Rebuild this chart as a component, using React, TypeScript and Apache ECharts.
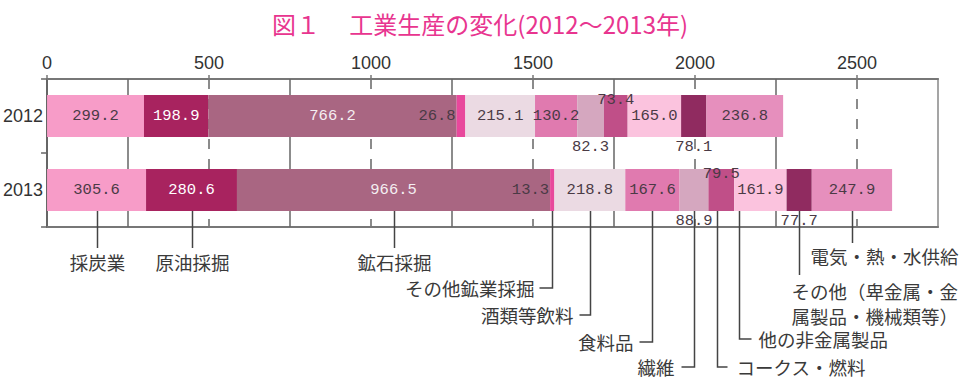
import React, { useEffect, useRef } from 'react';
import * as echarts from 'echarts';

// ---- data ----
const years = ['2012', '2013'];
const sectors = [
  '採炭業',
  '原油採掘',
  '鉱石採掘',
  'その他鉱業採掘',
  '酒類等飲料',
  '食料品',
  '繊維',
  'コークス・燃料',
  '他の非金属製品',
  'その他（卑金属・金\n属製品・機械類等）',
  '電気・熱・水供給',
];
const values2012 = [299.2, 198.9, 766.2, 26.8, 215.1, 130.2, 82.3, 73.4, 165.0, 78.1, 236.8];
const values2013 = [305.6, 280.6, 966.5, 13.3, 218.8, 167.6, 88.9, 79.5, 161.9, 77.7, 247.9];
const axisMax = 2750;
const tickInterval = 500;
const solidGridValues = [250, 750, 1250, 1750, 2250];
const titleText = '図１　 工業生産の変化(2012～2013年)';

// ---- style ----
const colors = [
  '#F79CC8', '#A8235F', '#A96682', '#E8489C', '#EBDAE3', '#E07AAF',
  '#D5A7BF', '#C04F88', '#FBC3DE', '#902B60', '#E68FBD',
];
const labelPlacement = [
  'inside', 'inside', 'inside', 'left', 'inside', 'inside',
  'bottom', 'insideTop', 'inside', 'bottom', 'inside',
];
const labelDistance = [5, 5, 5, 1, 5, 5, 2, -3, 5, 2, 5];
const labelColors = [
  '#4a3a45', '#ffffff', '#f4eef1', '#4a3a45', '#4a3a45', '#4a3a45',
  '#4a3a45', '#4a3a45', '#4a3a45', '#4a3a45', '#4a3a45',
];
const anchorFraction = [0.5, 0.5, 0.5, 0.5, 0.5, 0.5, 0.5, 0.35, 0.1, 0.5, 0.5];
const leaderLayout: any[] = [
  { kind: 'down', endY: 248, textY: 262 },
  { kind: 'down', endY: 248, textY: 262 },
  { kind: 'down', endY: 248, textY: 262 },
  { kind: 'left', endY: 288, arm: 13, gap: 5 },
  { kind: 'left', endY: 315, arm: 11, gap: 6 },
  { kind: 'left', endY: 342, arm: 13, gap: 6 },
  { kind: 'left', endY: 367, arm: 13, gap: 7 },
  { kind: 'right', endY: 367, arm: 10, gap: 9 },
  { kind: 'right', endY: 339, arm: 12, gap: 7 },
  { kind: 'under', endY: 275, textDx: -8, textY: 278 },
  { kind: 'under', endY: 243, textDx: -42, textY: 243 },
];

const BAR_W = 42;
const LINE_C = '#444';
const TEXT_C = '#3a3a3a';
const CJK = '"Noto Sans CJK JP", "Noto Sans", sans-serif';

export default function App() {
  const ref = useRef<HTMLDivElement>(null);

  useEffect(() => {
    const chart = echarts.init(ref.current!, null, { renderer: 'svg' });

    const series: any[] = sectors.map((name, i) => ({
      name,
      type: 'bar',
      stack: 'total',
      barWidth: BAR_W,
      z: 6,
      itemStyle: { color: colors[i] },
      label: {
        show: true,
        position: labelPlacement[i],
        distance: labelDistance[i],
        color: labelColors[i],
        fontFamily: '"Liberation Mono", "DejaVu Sans Mono", monospace',
        fontSize: 15.5,
        formatter: (p: any) => Number(p.value).toFixed(1),
      },
      data: [values2012[i], values2013[i]],
    }));
    series.push({
      type: 'line',
      data: [],
      z: 1,
      silent: true,
      markLine: {
        z: 1,
        silent: true,
        symbol: 'none',
        label: { show: false },
        lineStyle: { type: 'solid', color: '#666', width: 1.5 },
        data: solidGridValues.map((v) => ({ xAxis: v })),
      },
    });

    chart.setOption({
      animation: false,
      grid: {
        left: 46, right: 35, top: 79, bottom: 154,
        show: true, borderColor: '#888', borderWidth: 1.5,
      },
      xAxis: [
        {
          type: 'value', position: 'top', min: 0, max: axisMax, interval: tickInterval,
          axisLine: { show: true, lineStyle: { color: '#777', width: 2 } },
          axisTick: { show: true, length: 4, lineStyle: { color: '#777', width: 1.5 } },
          axisLabel: {
            show: true, margin: 7, color: '#333', fontSize: 18,
            fontFamily: '"Liberation Sans Narrow", "Liberation Sans", sans-serif',
            showMaxLabel: false,
            formatter: (v: number) => String(v),
          },
          splitLine: {
            show: true, showMinLine: false, showMaxLine: false,
            lineStyle: { color: '#666', width: 1.5, type: [10, 10] },
          },
        },
        {
          type: 'value', position: 'bottom', min: 0, max: axisMax, interval: tickInterval,
          axisLine: { show: true, lineStyle: { color: '#777', width: 2 } },
          axisTick: { show: false },
          axisLabel: { show: false },
          splitLine: { show: false },
        },
      ],
      yAxis: {
        type: 'category', data: years, inverse: true,
        axisLine: { show: true, lineStyle: { color: '#666', width: 2 } },
        axisTick: { show: true, length: 6, lineStyle: { color: '#666', width: 1.5 } },
        axisLabel: {
          margin: 4, color: '#333', fontSize: 18,
          fontFamily: '"Liberation Sans", sans-serif',
        },
      },
      series,
    });

    // annotations computed through the axes
    const elements: any[] = [];
    const txt = (x: number, y: number, text: string, align: string, valign: string, extra: any = {}) => ({
      type: 'text',
      silent: true,
      z: 10,
      style: {
        x, y, text,
        align, textAlign: align,
        verticalAlign: valign, textVerticalAlign: valign,
        fill: TEXT_C,
        fontSize: 18.5,
        fontFamily: CJK,
        ...extra,
      },
    });
    const seg = (pts: number[][]) => ({
      type: 'polyline',
      silent: true,
      z: 10,
      shape: { points: pts },
      style: { stroke: LINE_C, lineWidth: 1.5, fill: null },
    });

    elements.push({
      type: 'text', silent: true, z: 10,
      style: {
        x: 480, y: 23, text: titleText,
        align: 'center', textAlign: 'center',
        verticalAlign: 'middle', textVerticalAlign: 'middle',
        fill: '#E8358F', fontSize: 24, fontFamily: CJK,
      },
    });

    const barBottom = (chart.convertToPixel({ yAxisIndex: 0 }, '2013') as number) + BAR_W / 2;
    let cum = 0;
    values2013.forEach((v, i) => {
      const anchorVal = cum + v * anchorFraction[i];
      cum += v;
      const x = Math.round(chart.convertToPixel({ xAxisIndex: 0 }, anchorVal) as number) + 0.5;
      const L = leaderLayout[i];
      const label = sectors[i];
      if (L.kind === 'down') {
        elements.push(seg([[x, barBottom], [x, L.endY]]));
        elements.push(txt(x, L.textY, label, 'center', 'middle'));
      } else if (L.kind === 'left') {
        elements.push(seg([[x, barBottom], [x, L.endY], [x - L.arm, L.endY]]));
        elements.push(txt(x - L.arm - L.gap, L.endY, label, 'right', 'middle'));
      } else if (L.kind === 'right') {
        elements.push(seg([[x, barBottom], [x, L.endY], [x + L.arm, L.endY]]));
        elements.push(txt(x + L.arm + L.gap, L.endY, label, 'left', 'middle'));
      } else {
        elements.push(seg([[x, barBottom], [x, L.endY]]));
        elements.push(txt(x + L.textDx, L.textY, label, 'left', 'top', { lineHeight: 25 }));
      }
    });

    chart.setOption({ graphic: elements });

    return () => chart.dispose();
  }, []);

  return (
    <div
      ref={ref}
      style={{ position: 'absolute', left: 0, top: 0, width: 973, height: 381 }}
    />
  );
}
